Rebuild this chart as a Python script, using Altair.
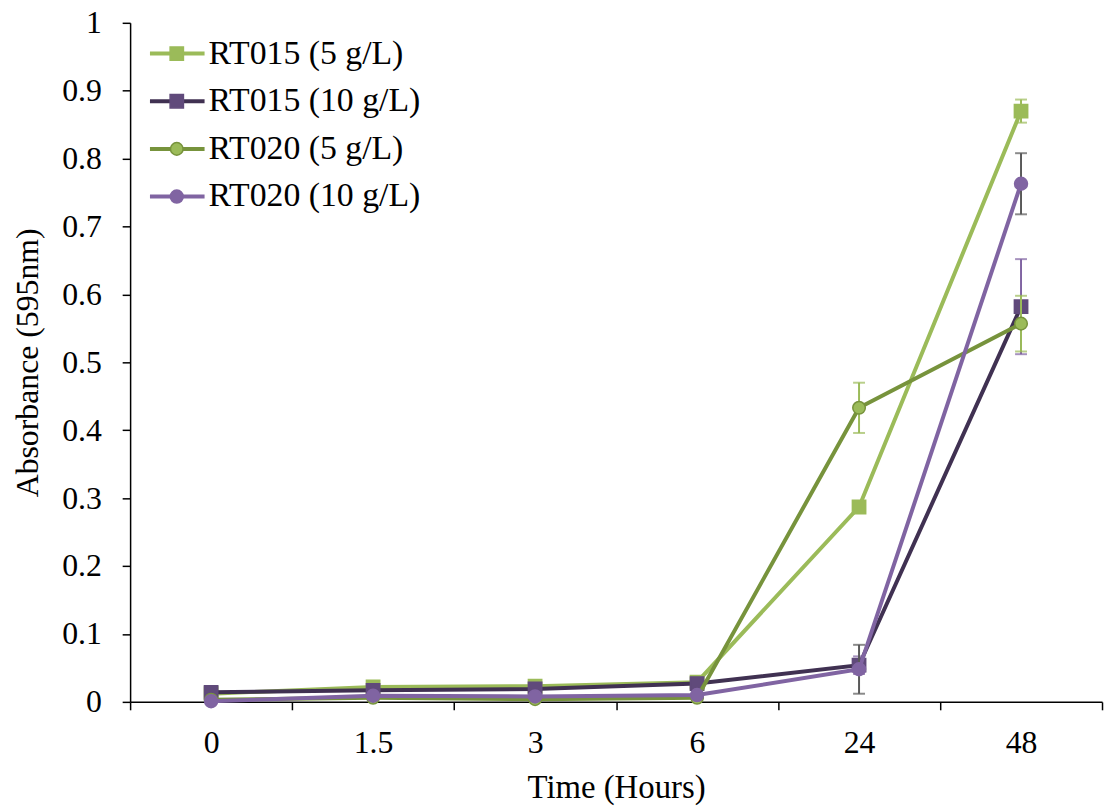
import altair as alt
import pandas as pd

times = ["0", "1.5", "3", "6", "24", "48"]
series_names = ["RT015 (5 g/L)", "RT015 (10 g/L)", "RT020 (5 g/L)", "RT020 (10 g/L)"]

rt015_5 = [0.012, 0.022, 0.023, 0.029, 0.287, 0.870]
rt015_5_err = [0.002, 0.002, 0.002, 0.002, 0.004, 0.017]
rt015_10 = [0.014, 0.017, 0.019, 0.027, 0.054, 0.582]
rt015_10_err = [0.002, 0.002, 0.002, 0.002, 0.013, 0.070]
rt020_5 = [0.003, 0.006, 0.004, 0.006, 0.433, 0.557]
rt020_5_err = [0.001, 0.001, 0.001, 0.001, 0.037, 0.041]
rt020_10 = [0.001, 0.009, 0.008, 0.010, 0.048, 0.763]
rt020_10_err = [0.001, 0.001, 0.001, 0.001, 0.036, 0.045]

y_ticks = [0, 0.1, 0.2, 0.3, 0.4, 0.5, 0.6, 0.7, 0.8, 0.9, 1]

line_colors = ["#9BBB59", "#403152", "#77933C", "#8064A2"]
fill_colors = ["#9BBB59", "#604A7B", "#9BBB59", "#8064A2"]
stroke_colors = ["#9BBB59", "#604A7B", "#77933C", "#8064A2"]
err_colors = ["#9BBB59", "#8064A2", "#9BBB59", "#595959"]
shapes = ["square", "square", "circle", "circle"]
sizes = [180, 180, 160, 170]

values = [rt015_5, rt015_10, rt020_5, rt020_10]
errors = [rt015_5_err, rt015_10_err, rt020_5_err, rt020_10_err]

rows = []
for s, vals, errs in zip(series_names, values, errors):
    for i, (t, v, e) in enumerate(zip(times, vals, errs)):
        rows.append({"series": s, "time": t, "idx": i, "value": v,
                     "lo": v - e, "hi": v + e})
df = pd.DataFrame(rows)
leg_df = pd.DataFrame({"series": series_names})

FONT = "Liberation Serif"
FS = 32

x_axis = alt.Axis(title="Time (Hours)", labelAngle=0, tickBand="extent",
                  tickSize=8, labelPadding=18, titleX=489.5, titleY=86,
                  titleAlign="center", titleBaseline="middle", titleFontSize=33)
y_axis = alt.Axis(title="Absorbance (595nm)", values=y_ticks, format=".1~f",
                  tickSize=8, labelPadding=21, titleX=-103, titleY=342,
                  titleAngle=-90, titleAlign="center", titleBaseline="middle")

x_scale = alt.Scale(type="band", domain=times, paddingInner=0, paddingOuter=0)
y_scale = alt.Scale(domain=[0, 1], nice=False, zero=True)


def X():
    return alt.X("time:N", scale=x_scale, axis=x_axis, bandPosition=0.5, sort=times)


main_layers = []
for i, s in enumerate(series_names):
    base = alt.Chart(df).transform_filter(alt.datum.series == s)
    line = base.mark_line(strokeWidth=4, color=line_colors[i]).encode(
        x=X(), y=alt.Y("value:Q", scale=y_scale, axis=y_axis),
        order=alt.Order("idx:Q"))
    err = base.mark_rule(strokeWidth=2, color=err_colors[i]).encode(
        x=X(), y=alt.Y("lo:Q", scale=y_scale, axis=y_axis), y2="hi:Q")
    cap_hi = base.mark_tick(size=12, thickness=2, color=err_colors[i]).encode(
        x=X(), y=alt.Y("hi:Q", scale=y_scale, axis=y_axis))
    cap_lo = base.mark_tick(size=12, thickness=2, color=err_colors[i]).encode(
        x=X(), y=alt.Y("lo:Q", scale=y_scale, axis=y_axis))
    pts = base.mark_point(filled=True, shape=shapes[i], size=sizes[i],
                          fill=fill_colors[i], stroke=stroke_colors[i],
                          strokeWidth=1.5, opacity=1).encode(
        x=X(), y=alt.Y("value:Q", scale=y_scale, axis=y_axis))
    main_layers += [line, err, cap_hi, cap_lo, pts]

main = alt.layer(*main_layers)

legY = alt.Y("series:N", scale=alt.Scale(type="point", domain=series_names,
                                         range=[31, 175], padding=0), axis=None)
leg_layers = []
for i, s in enumerate(series_names):
    lb = alt.Chart(leg_df).transform_filter(alt.datum.series == s)
    leg_layers.append(lb.mark_rule(strokeWidth=4, color=line_colors[i]).encode(
        x=alt.value(20), x2=alt.value(75), y=legY))
    leg_layers.append(lb.mark_point(filled=True, shape=shapes[i], size=sizes[i],
                                    fill=fill_colors[i], stroke=stroke_colors[i],
                                    strokeWidth=1.5, opacity=1).encode(
        x=alt.value(47), y=legY))
    leg_layers.append(lb.mark_text(align="left", baseline="middle", font=FONT,
                                   fontSize=34, color="black").encode(
        x=alt.value(79), y=legY, text="series:N"))
legend = alt.layer(*leg_layers)

chart = alt.layer(main, legend).resolve_scale(y="independent").properties(
    width=979, height=684,
    autosize=alt.AutoSizeParams(type="none"),
    padding={"left": 123, "top": 12, "right": 3, "bottom": 106},
).configure_view(stroke=None).configure_axis(
    labelFont=FONT, titleFont=FONT, labelFontSize=FS, titleFontSize=FS,
    titleFontWeight="normal", labelColor="black", titleColor="black",
    domainColor="black", tickColor="black", domainWidth=1.5, tickWidth=1.5,
    grid=False,
)

chart.save("out.html", embed_options={"renderer": "svg", "actions": False})
